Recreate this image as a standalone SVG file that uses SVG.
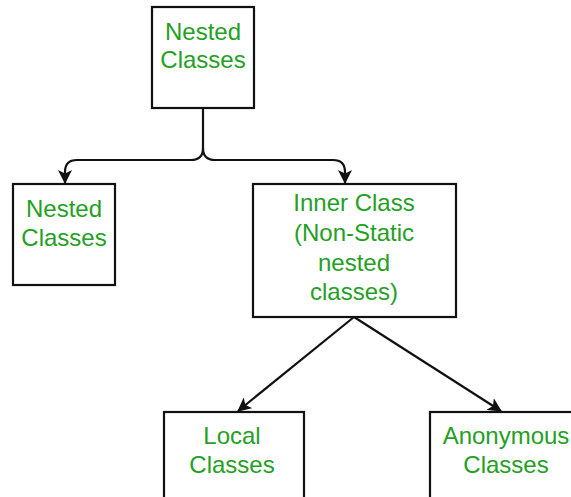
<svg xmlns="http://www.w3.org/2000/svg" width="571" height="497" viewBox="0 0 571 497">
<style>
.box{fill:#fff;stroke:#111;stroke-width:2.2}
.t{font-family:"Liberation Sans",Arial,sans-serif;font-size:24px;fill:#24a024;text-anchor:middle}
.c{fill:none;stroke:#111;stroke-width:2.2}
</style>
<defs>
<marker id="ah" viewBox="0 0 14 14" refX="13" refY="7" markerWidth="14" markerHeight="14" markerUnits="userSpaceOnUse" orient="auto">
<path d="M0,0 L14,7 L0,14 L3.5,7 Z" fill="#111"/>
</marker>
</defs>
<rect width="571" height="497" fill="#fff"/>
<g id="connectors">
<path class="c" d="M203,108 L203,148 Q203,160 191,160 L77,160 Q65,160 65,172 L65,183" marker-end="url(#ah)"/>
<path class="c" d="M203,148 Q203,160 215,160 L333,160 Q345,160 345,172 L345,183" marker-end="url(#ah)"/>
<path class="c" d="M354,317 L238,411" marker-end="url(#ah)"/>
<path class="c" d="M354,317 L501,411" marker-end="url(#ah)"/>
</g>
<g id="nested-top">
<rect class="box" x="152" y="7" width="102" height="101"/>
<text class="t" x="203" y="40">Nested</text>
<text class="t" x="203" y="68">Classes</text>
</g>
<g id="nested-left">
<rect class="box" x="13" y="184" width="102" height="101"/>
<text class="t" x="64" y="217">Nested</text>
<text class="t" x="64" y="246">Classes</text>
</g>
<g id="inner-class">
<rect class="box" x="253" y="184" width="203" height="133"/>
<text class="t" x="354" y="211">Inner Class</text>
<text class="t" x="354" y="241">(Non-Static</text>
<text class="t" x="354" y="271">nested</text>
<text class="t" x="354" y="300">classes)</text>
</g>
<g id="local-classes">
<rect class="box" x="164" y="412" width="140" height="100"/>
<text class="t" x="232" y="444">Local</text>
<text class="t" x="232" y="473">Classes</text>
</g>
<g id="anonymous-classes">
<rect class="box" x="430" y="412" width="160" height="100"/>
<text class="t" x="506" y="444">Anonymous</text>
<text class="t" x="506" y="473">Classes</text>
</g>
</svg>
